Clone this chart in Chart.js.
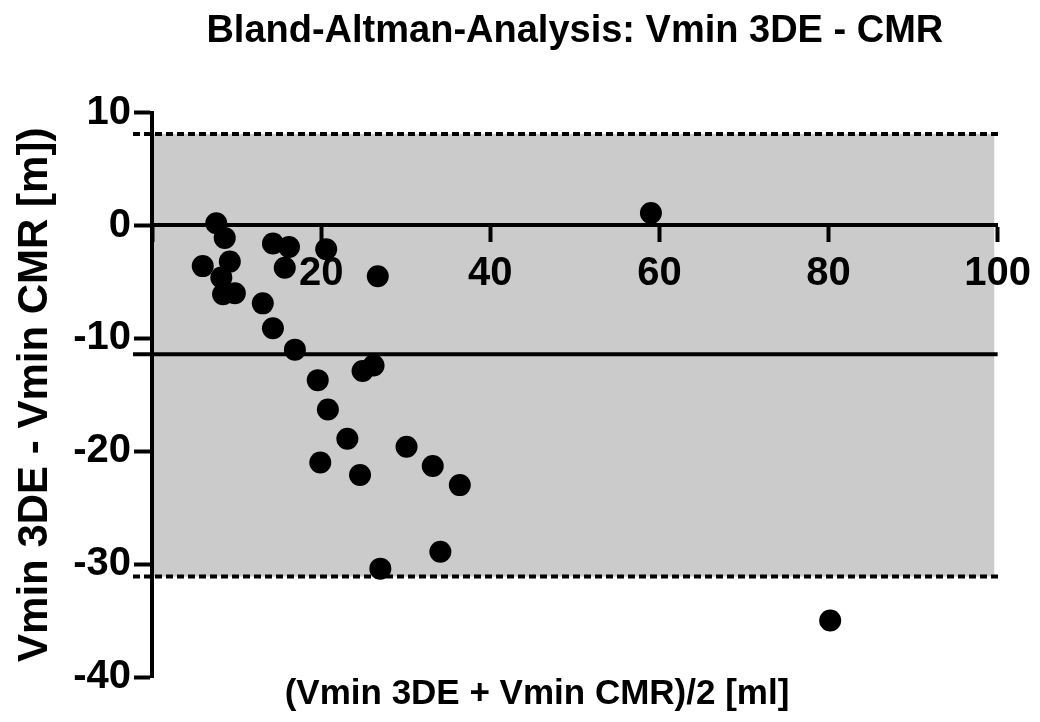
<!DOCTYPE html>
<html>
<head>
<meta charset="utf-8">
<script src="https://cdn.jsdelivr.net/npm/chart.js@4.4.0/dist/chart.umd.min.js"></script>
<style>
  html, body { margin: 0; padding: 0; background: #fff; }
  #wrap { width: 1040px; height: 722px; }
</style>
</head>
<body>
<div id="wrap"><canvas id="chart"></canvas></div>
<script>
// Bland-Altman data: mean of both methods (x) vs difference (y)
const meanValues = [7.6, 8.6, 6.0, 9.2, 8.2, 8.4, 9.8, 14.3, 16.2, 15.7, 20.6, 26.7, 13.1, 14.3, 16.9,
                    24.9, 26.2, 19.6, 20.8, 23.1, 19.9, 24.6, 30.1, 33.2, 36.4, 34.1, 27.0, 59.0, 80.2];
const diffValues = [0.2, -1.1, -3.6, -3.2, -4.6, -6.1, -6.0, -1.6, -1.9, -3.75, -2.1, -4.5, -6.9, -9.1, -11.0,
                    -12.9, -12.4, -13.7, -16.3, -18.9, -21.0, -22.1, -19.6, -21.3, -23.0, -28.9, -30.4, 1.1, -35.0];

const xTicks = [20, 40, 60, 80, 100];
const yTicks = [10, 0, -10, -20, -30, -40];

const bias = -11.4;
const upperLimit = 8.1;
const lowerLimit = -31.1;

const FONT = 'Liberation Sans, Arial, sans-serif';

// grey band + bias / limit lines + bottom axis title
const baPlugin = {
    id: 'baPlugin',
    beforeDraw(chart) {
        const { ctx, chartArea, scales: { x, y } } = chart;
        const top = y.getPixelForValue(upperLimit);
        const bottom = y.getPixelForValue(lowerLimit);
        ctx.save();
        ctx.fillStyle = '#cbcbcb';
        ctx.fillRect(chartArea.left, top, x.getPixelForValue(99.6) - chartArea.left, bottom - top);
        ctx.restore();
    },
    beforeDatasetsDraw(chart) {
        const { ctx, chartArea, scales: { y } } = chart;
        const x0 = chartArea.left - 19;
        ctx.save();
        ctx.strokeStyle = '#000';
        ctx.lineWidth = 4;

        // bias line (solid)
        ctx.beginPath();
        ctx.moveTo(x0, y.getPixelForValue(bias));
        ctx.lineTo(chartArea.right, y.getPixelForValue(bias));
        ctx.stroke();

        // limits of agreement (dotted)
        ctx.setLineDash([7, 4]);
        [upperLimit, lowerLimit].forEach(v => {
            ctx.beginPath();
            ctx.moveTo(x0, y.getPixelForValue(v));
            ctx.lineTo(chartArea.right + 4, y.getPixelForValue(v));
            ctx.stroke();
        });
        ctx.restore();
    },
    afterDraw(chart) {
        const { ctx, chartArea } = chart;
        ctx.save();
        ctx.fillStyle = '#000';
        ctx.font = 'bold 35px ' + FONT;
        ctx.textAlign = 'center';
        ctx.textBaseline = 'middle';
        ctx.fillText('(Vmin 3DE + Vmin CMR)/2 [ml]', chartArea.left + 385, chartArea.bottom + 17);
        ctx.restore();
    }
};

new Chart(document.getElementById('chart'), {
    type: 'scatter',
    data: {
        datasets: [{
            data: meanValues.map((m, i) => ({ x: m, y: diffValues[i] })),
            pointRadius: 11,
            pointHoverRadius: 11,
            pointBackgroundColor: '#000',
            pointBorderWidth: 0,
            showLine: false
        }]
    },
    options: {
        responsive: true,
        maintainAspectRatio: false,
        animation: false,
        layout: { padding: { left: 0, right: 41, top: 0, bottom: 45 } },
        plugins: {
            legend: { display: false },
            tooltip: { enabled: false },
            title: {
                display: true,
                text: 'Bland-Altman-Analysis: Vmin 3DE - CMR',
                fullSize: false,
                color: '#000',
                font: { family: FONT, size: 38, weight: 'bold' },
                padding: { top: 9, bottom: 58 }
            }
        },
        scales: {
            x: {
                type: 'linear',
                position: { y: 0 },
                min: 0,
                max: 100,
                afterBuildTicks: s => { s.ticks = [0].concat(xTicks).map(v => ({ value: v })); },
                ticks: {
                    color: '#000',
                    padding: 9,
                    maxRotation: 0,
                    font: { family: FONT, size: 40, weight: 'bold' },
                    callback: v => (v === 0 ? '' : v)
                },
                grid: { drawOnChartArea: false, tickLength: 15, tickWidth: 4, tickColor: '#000' },
                border: { color: '#000', width: 4 }
            },
            y: {
                type: 'linear',
                min: -40,
                max: 10,
                afterBuildTicks: s => { s.ticks = yTicks.map(v => ({ value: v })); },
                afterFit: s => { s.width = 152; },
                ticks: {
                    color: '#000',
                    padding: 3,
                    font: { family: FONT, size: 40, weight: 'bold' }
                },
                grid: { drawOnChartArea: false, tickLength: 18, tickWidth: 4, tickColor: '#000' },
                border: { color: '#000', width: 4 },
                title: {
                    display: true,
                    text: 'Vmin 3DE - Vmin CMR [m])',
                    color: '#000',
                    font: { family: FONT, size: 42, weight: 'bold' },
                    padding: { top: 10, bottom: 0 }
                }
            }
        }
    },
    plugins: [baPlugin]
});
</script>
</body>
</html>
